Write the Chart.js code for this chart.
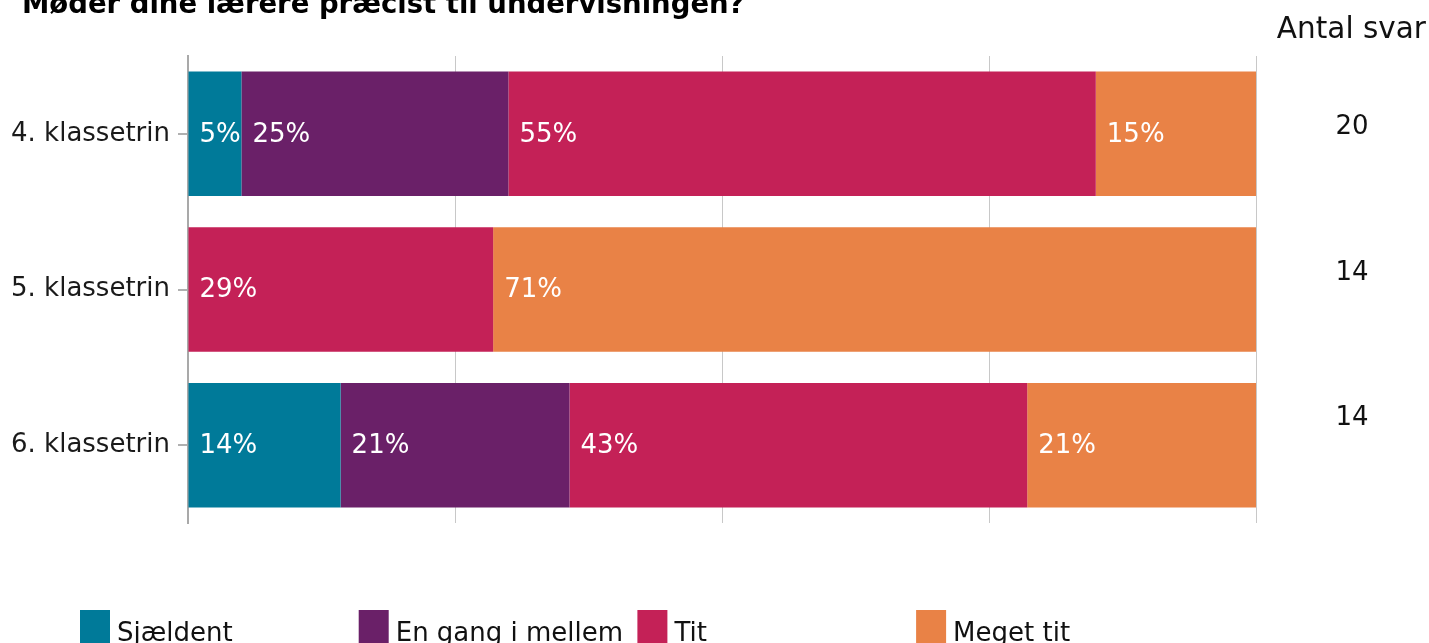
<!DOCTYPE html>
<html lang="da">
<head>
<meta charset="utf-8">
<title>Møder dine lærere præcist til undervisningen?</title>
<script src="https://cdn.jsdelivr.net/npm/chart.js@4.4.1/dist/chart.umd.min.js"></script>
<style>
  html, body { margin: 0; padding: 0; background: #ffffff; }
  #wrap { position: relative; width: 1429px; height: 643px; overflow: hidden; }
</style>
</head>
<body>
<div id="wrap"><canvas id="chart" width="1429" height="643"></canvas></div>
<script>
// Spørgsmål og kategorier
const questionTitle = 'Møder dine lærere præcist til undervisningen?';
const categories = ['4. klassetrin', '5. klassetrin', '6. klassetrin'];
const seriesNames = ['Sjældent', 'En gang i mellem', 'Tit', 'Meget tit'];
const seriesColors = ['#007A99', '#6A2068', '#C42157', '#E98246'];

// Andel af svar i procent pr. klassetrin
const sjaeldent = [5, 0, 14.29];
const enGangIMellem = [25, 0, 21.43];
const tit = [55, 28.57, 42.86];
const megetTit = [15, 71.43, 21.43];

// Antal besvarelser pr. klassetrin
const antalSvarHeader = 'Antal svar';
const antalSvar = [20, 14, 14];

// Procentakse
const axisMin = 0;
const axisMax = 100;
const axisStep = 25;

const FONT = '"DejaVu Sans", Verdana, sans-serif';

const seriesValues = [sjaeldent, enGangIMellem, tit, megetTit];
const datasets = seriesNames.map((name, i) => ({
  label: name,
  data: seriesValues[i],
  backgroundColor: seriesColors[i],
  borderWidth: 0,
  barPercentage: 1,
  categoryPercentage: 0.8
}));

// Hvide procenttal i venstre side af hvert segment
const segmentLabels = {
  id: 'segmentLabels',
  afterDatasetsDraw(chart) {
    const ctx = chart.ctx;
    ctx.save();
    ctx.fillStyle = '#ffffff';
    ctx.font = '26px ' + FONT;
    ctx.textAlign = 'left';
    ctx.textBaseline = 'middle';
    chart.data.datasets.forEach((ds, di) => {
      const meta = chart.getDatasetMeta(di);
      meta.data.forEach((bar, i) => {
        const v = ds.data[i];
        if (!v) return;
        const p = bar.getProps(['x', 'y', 'base'], true);
        const left = Math.min(p.x, p.base);
        ctx.fillText(Math.round(v) + '%', left + 11, p.y + 1);
      });
    });
    ctx.restore();
  }
};

// Overskrift, kolonnen "Antal svar" og forklaring
const extras = {
  id: 'extras',
  afterDraw(chart) {
    const ctx = chart.ctx;
    const area = chart.chartArea;
    const yScale = chart.scales.y;
    ctx.save();

    // Overskrift
    ctx.fillStyle = '#000000';
    ctx.font = 'bold 27.5px ' + FONT;
    ctx.textAlign = 'left';
    ctx.textBaseline = 'alphabetic';
    ctx.fillText(questionTitle, 22, 13);

    // Antal svar
    ctx.fillStyle = '#111111';
    ctx.font = '29.5px ' + FONT;
    ctx.textAlign = 'right';
    ctx.fillText(antalSvarHeader, chart.width - 3, 38);
    ctx.font = '26px ' + FONT;
    ctx.textAlign = 'center';
    const colX = area.right + 96;
    antalSvar.forEach((n, i) => {
      const cy = yScale.getPixelForValue(i);
      ctx.fillText(String(n), colX, cy - i * 10);
    });

    // Forklaring
    const legendX0 = 80;
    const legendStep = 278.7;
    const legendY = 610;
    ctx.font = '26px ' + FONT;
    ctx.textAlign = 'left';
    chart.data.datasets.forEach((ds, i) => {
      const x = legendX0 + i * legendStep;
      ctx.fillStyle = ds.backgroundColor;
      ctx.fillRect(x, legendY, 30, 40);
      ctx.fillStyle = '#111111';
      ctx.fillText(ds.label, x + 37, 641);
    });

    ctx.restore();
  }
};

new Chart(document.getElementById('chart'), {
  type: 'bar',
  data: { labels: categories, datasets },
  options: {
    indexAxis: 'y',
    responsive: false,
    animation: false,
    devicePixelRatio: 1,
    layout: { padding: { top: 56, right: 173, bottom: 120, left: 0 } },
    plugins: {
      legend: { display: false },
      title: { display: false },
      tooltip: { enabled: false }
    },
    scales: {
      x: {
        stacked: true,
        min: axisMin,
        max: axisMax,
        ticks: { display: false, stepSize: axisStep },
        grid: { color: '#c8c8c8', lineWidth: 1, drawTicks: false },
        border: { display: false },
        afterFit(scale) { scale.height = 0; }
      },
      y: {
        stacked: true,
        ticks: { color: '#1a1a1a', font: { family: FONT, size: 26 }, padding: 8 },
        grid: { offset: false, drawOnChartArea: false, drawTicks: true, tickLength: 10, color: '#b0b0b0', lineWidth: 2 },
        border: { display: true, color: '#a9a9a9', width: 2 },
        afterFit(scale) { scale.width = 188; }
      }
    }
  },
  plugins: [segmentLabels, extras]
});
</script>
</body>
</html>
